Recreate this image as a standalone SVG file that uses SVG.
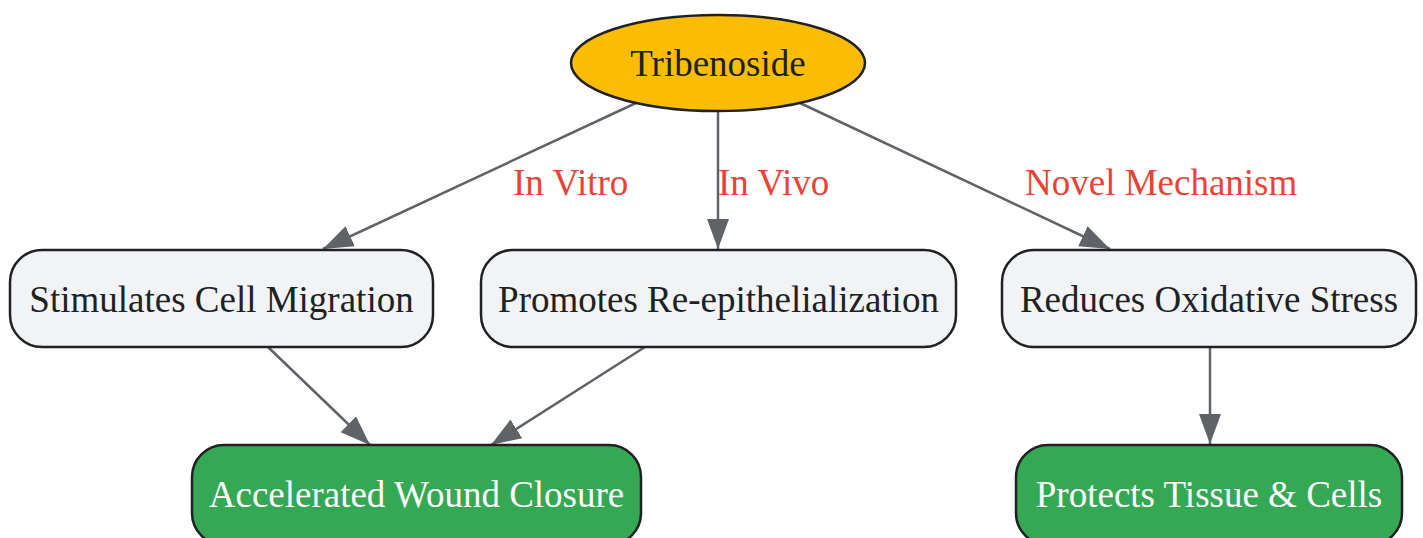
<svg xmlns="http://www.w3.org/2000/svg" width="1423" height="538" viewBox="0 0 1423 538">
<defs>
<marker id="arr" markerUnits="userSpaceOnUse" markerWidth="30" markerHeight="24" refX="30" refY="12" orient="auto">
<path d="M0,1 L30,12 L0,23 Z" fill="#5F6368"/>
</marker>
<style>
.n text{font-family:"Liberation Serif","Times New Roman",serif;font-size:37px;text-anchor:middle;dominant-baseline:central}
.g rect{fill:#F1F3F4;stroke:#202124;stroke-width:2.5}
.g text{fill:#202124}
.k rect{fill:#34A853;stroke:#202124;stroke-width:2.5}
.k text{fill:#FFFFFF}
.e line{stroke:#5F6368;stroke-width:2.5;marker-end:url(#arr)}
.lbl{font-family:"Liberation Serif","Times New Roman",serif;font-size:37px;fill:#EA4335;dominant-baseline:central}
</style>
</defs>
<rect width="1423" height="538" fill="#FFFFFF"/>
<g id="edges" class="e">
<line x1="636" y1="103" x2="323" y2="249"/>
<line x1="718" y1="111" x2="718" y2="249"/>
<line x1="800" y1="103" x2="1110" y2="249"/>
<line x1="268" y1="347" x2="370" y2="445"/>
<line x1="645" y1="347" x2="491" y2="445"/>
<line x1="1210" y1="347" x2="1210" y2="444"/>
</g>
<g id="edge-labels">
<text class="lbl" x="513" y="182">In Vitro</text>
<text class="lbl" x="718" y="182">In Vivo</text>
<text class="lbl" x="1025" y="182">Novel Mechanism</text>
</g>
<g id="tribenoside" class="n">
<ellipse cx="718" cy="63" rx="147" ry="48" fill="#FBBC04" stroke="#202124" stroke-width="2.5"/>
<text x="718" y="63" fill="#202124">Tribenoside</text>
</g>
<g id="migration" class="n g">
<rect x="10" y="250" width="423" height="97" rx="32"/>
<text x="221.5" y="299">Stimulates Cell Migration</text>
</g>
<g id="reepith" class="n g">
<rect x="481" y="250" width="475" height="97" rx="32"/>
<text x="718.5" y="299">Promotes Re-epithelialization</text>
</g>
<g id="oxidative" class="n g">
<rect x="1002" y="250" width="414" height="97" rx="32"/>
<text x="1209" y="299">Reduces Oxidative Stress</text>
</g>
<g id="wound" class="n k">
<rect x="192" y="445" width="449" height="100" rx="32"/>
<text x="416.5" y="494">Accelerated Wound Closure</text>
</g>
<g id="protects" class="n k">
<rect x="1016" y="445" width="386" height="100" rx="32"/>
<text x="1209" y="494">Protects Tissue &amp; Cells</text>
</g>
</svg>
